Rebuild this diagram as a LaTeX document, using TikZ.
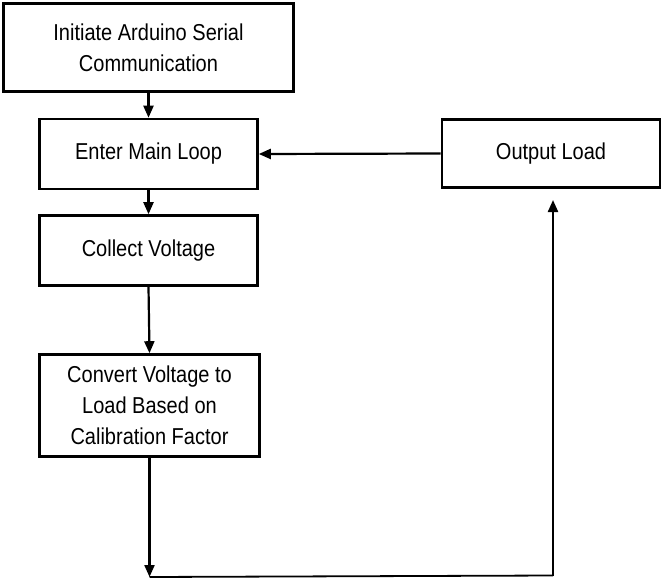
\documentclass[tikz,border=0pt]{standalone}
\usepackage{fontspec}
\setmainfont{Liberation Sans}[FakeStretch=0.87]
\usetikzlibrary{arrows.meta}
\tikzset{
  box/.style={draw, line width=2.6pt, rectangle, align=center, inner sep=0pt,
    font=\fontsize{23pt}{31pt}\selectfont},
  conn/.style={line width=2.2pt, -{Triangle[length=12pt,width=10pt]}},
  plain/.style={line width=1.8pt}
}
\begin{document}
\begin{tikzpicture}[x=1pt,y=-1pt]
\useasboundingbox (0,0) rectangle (662,579);
\node[box, minimum width=290pt, minimum height=88pt] (b1) at (148.5,47.5) {Initiate Arduino Serial\\Communication};
\node[box, minimum width=218pt, minimum height=70pt] (b2) at (148.5,154) {Enter Main Loop};
\node[box, minimum width=218pt, minimum height=70pt] (b3) at (148.5,250.5) {Collect Voltage};
\node[box, minimum width=220pt, minimum height=102pt] (b4) at (149.5,405.5) {Convert Voltage to\\Load Based on\\Calibration Factor};
\node[box, minimum width=218pt, minimum height=68pt] (b5) at (551,153.5) {Output Load};
\coordinate (c1) at (149.5,577);
\coordinate (c2) at (553,575.5);
\coordinate (c3) at (553,200);
\draw[conn] (b1.south) -- (b2.north);
\draw[conn] (b2.south) -- (b3.north);
\draw[conn] (b3.south) -- (b4.north);
\draw[conn] (b4.south) -- (c1);
\draw[conn] (b5.west) -- (b2.east);
\draw[plain] (c1) -- (c2);
\draw[conn] (c2) -- (c3);
\end{tikzpicture}
\end{document}
